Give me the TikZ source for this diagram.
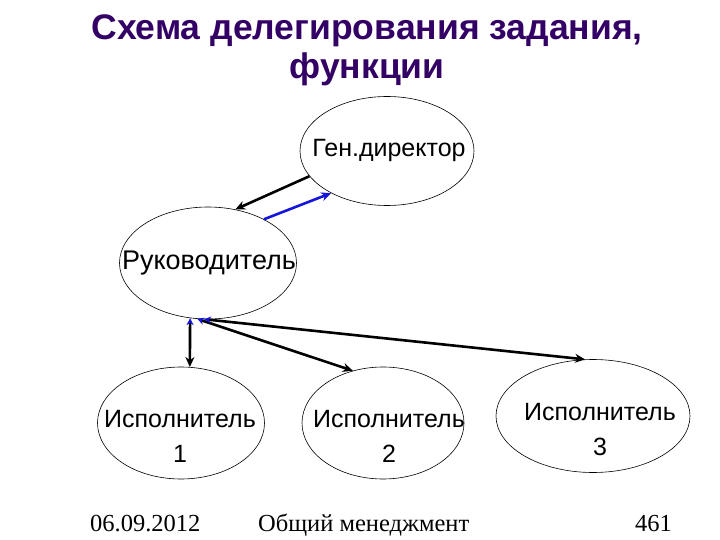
\documentclass[tikz,border=0pt]{standalone}
\usepackage{fontspec}
\setmainfont{Liberation Sans}
\newfontfamily\footfont{Liberation Serif}
\usetikzlibrary{shapes.geometric,arrows.meta}
\definecolor{titlecol}{RGB}{51,0,102}
\definecolor{arrblue}{RGB}{20,20,220}
\tikzset{
  oval/.style={ellipse,draw,line width=0.6pt,inner sep=0pt},
  lbl/.style={font=\fontsize{25}{35}\selectfont,align=center,inner sep=0pt},
  conn/.style={line width=2.6pt,-{Stealth[length=10pt,width=9pt]}},
  dconn/.style={line width=2.6pt,{Stealth[length=7pt,width=7pt,color=arrblue]}-{Stealth[length=10pt,width=9pt]}},
  ttl/.style={font=\fontsize{35.5}{39}\bfseries\selectfont,text=titlecol,align=center,inner sep=0pt},
  foot/.style={font=\footfont\fontsize{24.5}{26}\selectfont,inner sep=0pt}
}
\begin{document}
\begin{tikzpicture}[x=1pt,y=-1pt]
\useasboundingbox (0,0) rectangle (720,540);
\node[ttl] (title) at (367,50) {Схема делегирования задания,\\функции};
% ellipses
\node[oval,minimum width=174pt,minimum height=109pt] (gen) at (387,151) {};
\node[oval,minimum width=177pt,minimum height=112pt] (ruk) at (208,263) {};
\node[oval,minimum width=167pt,minimum height=112pt] (isp1) at (181,423) {};
\node[oval,minimum width=162pt,minimum height=112pt] (isp2) at (383,423) {};
\node[oval,minimum width=194pt,minimum height=113pt] (isp3) at (593,416) {};
% texts
\node[lbl] (tgen) at (389,150) {Ген.директор};
\node[lbl,font=\fontsize{27}{35}\selectfont] (truk) at (209,263) {Руководитель};
\node[lbl] (tisp1) at (180,436) {Исполнитель\\1};
\node[lbl] (tisp2) at (389,436) {Исполнитель\\2};
\node[lbl] (tisp3) at (600,430) {Исполнитель\\3};
% connectors
\draw[conn] (gen.198) -- (ruk.63);
\draw[conn,arrblue] (ruk.38) -- (gen.217);
\draw[dconn] (ruk.252) -- (isp1.81);
\draw[dconn] (ruk.259) -- (isp2.120);
\draw[dconn] (ruk.266) -- (isp3.98);
% footer
\node[foot,anchor=base west] (date) at (90,531) {06.09.2012};
\node[foot,anchor=base west] (course) at (258,531) {Общий менеджмент};
\node[foot,anchor=base east] (page) at (672,531) {461};
\end{tikzpicture}
\end{document}
